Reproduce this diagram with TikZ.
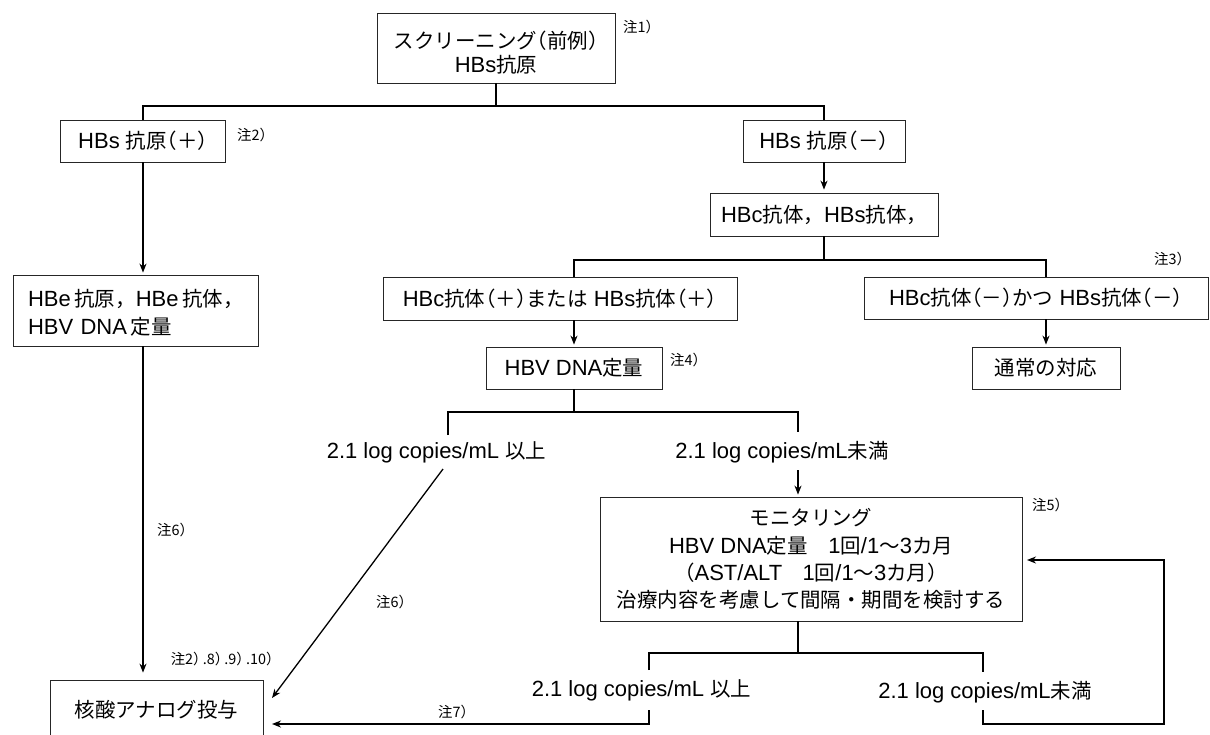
\documentclass[tikz,border=0pt]{standalone}
\usepackage{fontspec}
\setmainfont{Liberation Sans}
\newfontfamily\cjk[Scale=0.93]{Noto Sans CJK JP}
\newfontfamily\cjkh[Scale=0.93,RawFeature=+halt]{Noto Sans CJK JP}
\newcommand\JP[1]{{\cjk #1}}
\newcommand\JH[1]{{\cjkh #1}}
\usetikzlibrary{arrows.meta}
\begin{document}
\begin{tikzpicture}[x=1pt,y=-1pt,
  box/.style={draw=black!85, line width=0.8pt, inner sep=0pt, minimum height=42pt, font=\fontsize{22}{26}\selectfont},
  lbl/.style={inner sep=0pt, font=\fontsize{22}{26}\selectfont},
  note/.style={inner sep=0pt, font=\fontsize{15.5}{17}\selectfont\cjkh},
  bar/.style={line width=2pt},
  arr/.style={line width=1.8pt, -{Stealth[length=9pt,width=7pt]}},
  arrthin/.style={line width=1.3pt, -{Stealth[length=9pt,width=7pt]}}]
\useasboundingbox (0,0) rectangle (1210,734);
\clip (0,0) rectangle (1210,734);
\fill[white] (0,0) rectangle (1210,734);

% boxes
\node[box, minimum width=238pt, minimum height=70pt, align=center, font=\fontsize{22}{24}\selectfont] (top) at (496,48)
  {\rule{0pt}{27pt}\JP{スクリーニング}\JH{（}\JP{前例}\JH{）}\\HBs\JP{抗原}};
\node[box, minimum width=165pt] (pos) at (143,141) {HBs \JP{抗原}\JH{（}\JP{＋}\JH{）}};
\node[box, minimum width=162pt] (neg) at (824,141) {HBs \JP{抗原}\JH{（}\JP{－}\JH{）}};
\node[box, minimum width=228pt, minimum height=43pt] (hbc) at (824,214.5) {HBc\JP{抗体，}HBs\JP{抗体，}};
\node[box, text width=215pt, inner xsep=15pt, minimum height=71pt, align=left, font=\fontsize{22}{28}\selectfont] (hbe) at (135.5,310.5)
  {\rule{0pt}{22pt}HBe\,\JP{抗原，}HBe\,\JP{抗体，}\\HBV DNA\,\JP{定量}};
\node[box, minimum width=354pt, minimum height=43pt] (plus) at (560,298.5)
  {HBc\JP{抗体}\JH{（}\JP{＋}\JH{）}\JP{または} HBs\JP{抗体}\JH{（}\JP{＋}\JH{）}};
\node[box, minimum width=344pt] (minus) at (1036,298)
  {HBc\JP{抗体}\JH{（}\JP{－}\JH{）}\JP{かつ} HBs\JP{抗体}\JH{（}\JP{－}\JH{）}};
\node[box, minimum width=148pt] (usual) at (1046,368) {\JP{通常の対応}};
\node[box, minimum width=176pt] (dna) at (574,368) {HBV DNA\JP{定量}};
\node[box, minimum width=422pt, minimum height=124pt, align=center, font=\fontsize{22}{27.3}\selectfont] (mon) at (811,559)
  {\JP{モニタリング}\\
   HBV DNA\JP{定量　}1\JP{回}/1\JP{～}3\JP{カ月}\\
   \JP{（}AST/ALT\JP{　}1\JP{回}/1\JP{～}3\JP{カ月）}\\
   \JP{治療内容を考慮して間隔・期間を検討する}};
\node[box, minimum width=213pt, minimum height=60pt] (nuc) at (156.5,710) {\JP{核酸アナログ投与}};

% branch labels
\node[lbl] (ge1) at (436.5,452) {2.1 log copies/mL \JP{以上}};
\node[lbl] (lt1) at (782,452) {2.1 log copies/mL\JP{未満}};
\node[lbl] (ge2) at (641.5,690) {2.1 log copies/mL \JP{以上}};
\node[lbl] (lt2) at (985,692) {2.1 log copies/mL\JP{未満}};

% notes
\node[note] (n1) at (638,27) {注1）};
\node[note] (n2) at (252,135) {注2）};
\node[note] (n3) at (1169,259) {注3）};
\node[note] (n4) at (685,360) {注4）};
\node[note] (n5) at (1047,505) {注5）};
\node[note] (n6a) at (172,530) {注6）};
\node[note] (n6b) at (391,602) {注6）};
\node[note] (n8) at (222,659) {注2）\,.8）\,.9）\,.10）};
\node[note] (n7) at (453,712) {注7）};

% junctions
\coordinate (j1) at (496,106);
\coordinate (j2) at (824,260);
\coordinate (xa) at (574,0);
\coordinate (xm) at (1046,0);
\coordinate (j3) at (574,412);
\coordinate (d1) at (448,435);
\coordinate (d2) at (798,432);
\coordinate (a2) at (798,470);
\coordinate (dg) at (443,469);
\coordinate (tA) at (272,698);
\coordinate (j4) at (798,653);
\coordinate (d3) at (649,670);
\coordinate (d4) at (983,672);
\coordinate (u3) at (649,710);
\coordinate (u4) at (983,710);
\coordinate (tB) at (272,724);
\coordinate (lp) at (1164,724);
\coordinate (tC) at (1027,560);

% connectors
\draw[bar] (top.south) -- (j1);
\draw[bar] (pos.north) |- (j1) -| (neg.north);
\draw[arr, shorten >=2pt] (pos.south) -- (hbe.north -| pos.south);
\draw[arrthin, shorten >=7pt] (hbe.south -| pos.south) -- (nuc.north -| pos.south);
\draw[arr, shorten >=3pt] (neg.south) -- (hbc.north);
\draw[bar] (hbc.south) -- (j2);
\draw[bar] (plus.north -| xa) |- (j2) -| (minus.north -| xm);
\draw[arr, shorten >=2pt] (plus.south -| xa) -- (dna.north);
\draw[arr, shorten >=2pt] (minus.south -| xm) -- (usual.north);
\draw[bar] (dna.south) -- (j3);
\draw[bar] (d1) |- (j3) -| (d2);
\draw[arr, shorten >=2pt] (a2) -- (mon.north -| a2);
\draw[arrthin] (dg) -- (tA);
\draw[bar] (mon.south -| j4) -- (j4);
\draw[bar] (d3) |- (j4) -| (d4);
\draw[arr] (u3) |- (tB);
\draw[arr] (u4) |- (lp) |- (tC);
\end{tikzpicture}
\end{document}
